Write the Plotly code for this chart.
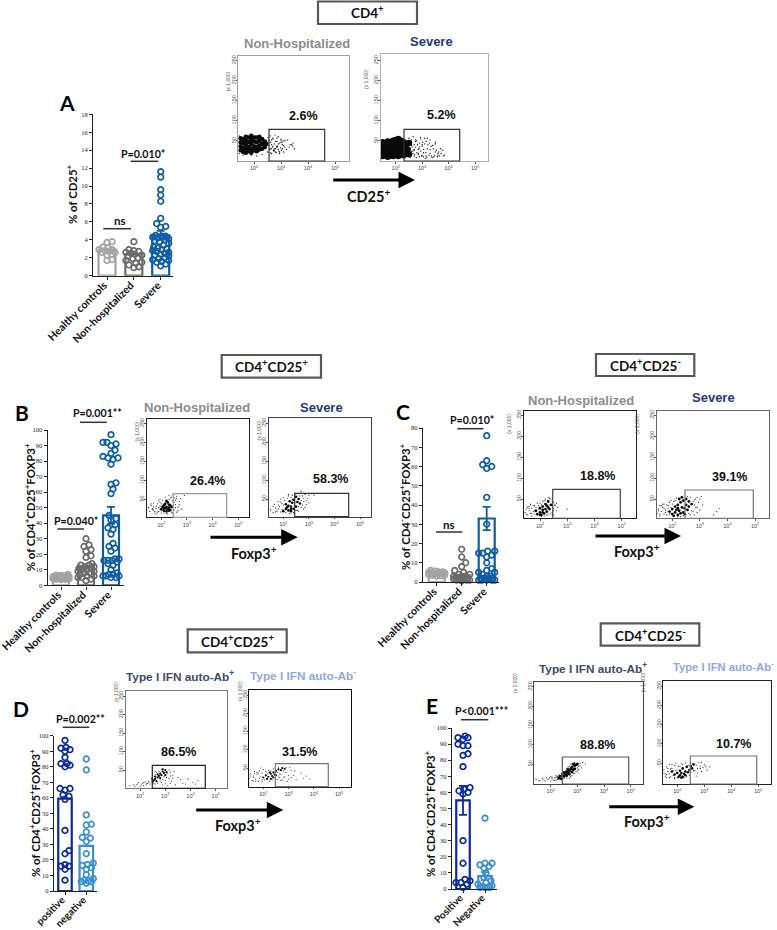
import plotly.graph_objects as go

W, H = 777, 930

# ---------- bar chart data ----------
A_labels = ["Healthy controls", "Non-hospitalized", "Severe"]
A_means = [2.9, 2.4, 4.5]
A_err = [0, 0, 0.5]
A_healthy = [3.8, 3.7, 3.2, 3.1, 2.9, 2.9, 2.8, 2.7, 2.6, 2.6, 2.4, 2.3, 1.8, 1.7]
A_nonhosp = [3.8, 2.9, 2.8, 2.7, 2.6, 2.5, 2.4, 2.3, 2.2, 2.0, 1.9, 1.7, 1.5, 1.4, 1.2, 1.0, 0.9]
A_severe = [11.6, 11.0, 9.6, 9.0, 8.3, 6.4, 5.8, 5.5, 5.4, 4.5, 4.4, 4.4, 4.3, 4.2, 4.1, 4.0, 3.9, 3.8, 3.6,
            3.4, 3.2, 3.1, 3.0, 2.9, 2.8, 2.7, 2.6, 2.5, 2.4, 2.3, 2.2, 2.0, 1.9, 1.8, 1.7, 1.6, 1.5, 1.3, 1.1]

B_means = [5, 12, 45]
B_err = [0, 0, 5.5]
B_healthy = [7, 6.6, 6.2, 6, 5.8, 5.5, 5.3, 5, 5, 4.8, 4.5, 4.4, 4.2, 4, 3.8, 3.6, 6.4, 5.6, 4.6, 4.1]
B_nonhosp = [30, 26, 25, 23, 22, 19, 18, 14, 13, 13, 12, 12, 11, 11, 10, 10, 9, 9, 8, 8, 7, 6, 6, 5, 5, 4, 3]
B_severe = [97, 92, 92, 91, 90, 87, 85, 83, 82, 82, 81, 78, 66, 65, 62, 59, 45, 43, 42, 39, 37, 36, 33, 27, 25,
            24, 22, 17, 17, 16, 16, 16, 15, 14, 13, 10, 8, 7, 7, 6, 6, 6, 5, 5]

C_means = [4, 3.5, 33]
C_err = [0, 0, 6]
C_healthy = [6, 5.6, 5.3, 5, 5, 4.8, 4.6, 4.4, 4.2, 4, 3.8, 3.6, 3.4, 3.2, 3, 5.2, 4.5, 3.9]
C_nonhosp = [17, 13, 10, 8, 6, 5, 4, 4, 3, 3, 3, 2, 2, 2, 1.5, 1, 1, 1, 0.5, 2.5]
C_severe = [76, 63, 61, 60, 59, 44, 30, 16, 16, 15, 15, 14, 13, 10, 7, 6, 5, 5, 4, 3, 3, 2, 2, 2, 2, 1, 1, 1, 1, 1]

D_labels = ["positive", "negative"]
D_means = [59.5, 29]
D_positive = [97, 92.5, 92, 91, 90, 86, 82, 82, 81, 80, 66, 66, 65, 62, 61, 59, 39, 26, 24, 17, 16, 16, 14, 7]
D_negative = [85, 78, 49, 43, 42.5, 38, 34.5, 34, 32, 24, 18, 17, 16.5, 15, 14, 10.5, 8, 7, 6.5, 6, 6, 5]

E_labels = ["Positive", "Negative"]
E_means = [55, 8]
E_err = [9, 2.5]
E_positive = [95, 94, 94, 93, 90, 89, 89, 84, 83, 76, 63, 62, 61, 60, 59, 30, 16, 6, 5, 4, 4, 3, 1]
E_negative = [44, 16, 16, 15, 14, 13, 10, 7, 5, 4, 3, 2, 1.5, 1, 1, 1, 1]

# ---------- flow cytometry data: (log10 of fluorescence, FSC/1000) ----------
F1_cx = [1.5,1.5,1.5,1.5,1.6,1.6,1.6,1.6,1.7,1.7,1.7,1.7,1.7,1.8,1.8,1.8,1.8,1.9,1.9,1.9,1.9,1.9,2.0,2.0,2.0,2.0,2.1,2.1,2.1,2.1,2.2,2.2,2.2,2.2,2.3,2.3,2.3,2.4,2.4,2.45]
F1_cy = [26,36,46,56,22,32,44,54,20,30,40,50,60,24,34,46,58,20,30,42,52,62,26,36,48,58,24,34,46,58,28,38,50,60,30,42,54,34,48,42]
F1_sx = [2.55,2.6,2.65,2.7,2.75,2.8,2.85,2.9,2.95,3.0,3.05,3.1,3.15,3.2,3.3,3.4,3.5,2.6,2.7,2.8,2.9,3.0,2.65,2.75,2.85,3.45,
         2.5,2.52,2.55,2.58,2.6,2.62,2.65,2.68,2.7,2.72,2.75,2.78,2.8,2.82,2.85,2.88,2.9,2.92,2.95,2.98,3.0,3.02,3.05,3.08,3.1,2.56,2.64,2.74,2.84,2.94,3.04,3.14,3.24,3.34,3.44,1.45,1.45,1.6,1.9,2.1,2.3]
F1_sy = [44,30,52,36,26,48,33,42,22,46,30,38,50,28,34,40,30,20,54,22,28,52,40,30,56,44,
         22,58,38,28,62,46,18,34,56,26,42,64,30,20,48,36,60,24,44,32,54,26,40,50,22,50,30,24,36,18,46,34,52,40,36,18,62,14,14,12,16]

F2_cx = [1.5,1.5,1.5,1.5,1.6,1.6,1.6,1.7,1.7,1.7,1.7,1.8,1.8,1.8,1.9,1.9,1.9,1.9,2.0,2.0,2.0,2.1,2.1,2.1,2.1,2.2,2.2,2.2,2.3,2.3,2.3,2.4,2.4,2.45,2.5,2.5]
F2_cy = [12,24,36,46,16,30,42,10,22,34,48,14,28,42,12,24,38,50,16,32,52,12,26,40,54,18,34,50,14,30,46,20,40,28,16,44]
F2_sx = [2.55,2.6,2.6,2.65,2.7,2.7,2.75,2.8,2.8,2.85,2.9,2.9,2.95,3.0,3.0,3.05,3.1,3.15,3.2,3.2,3.3,3.35,3.4,3.5,3.6,3.7,3.8,3.3,3.5,3.6,2.65,2.75,2.85,2.95,3.05,3.15,2.6,2.7,
         2.5,2.55,2.58,2.62,2.66,2.7,2.74,2.78,2.82,2.86,2.9,2.94,2.98,3.02,3.06,3.1,3.14,3.18,3.22,3.26,3.3,3.34,3.38,3.42,3.46,3.5,3.54,3.58,3.62,3.66,3.72,3.78,3.85,2.6,2.72,2.88,3.0,3.12,3.28,3.44]
F2_sy = [30,14,52,24,40,12,34,20,50,28,10,44,24,36,14,20,42,12,30,56,18,12,38,22,14,30,12,52,46,18,18,48,15,54,10,48,38,26,
         56,8,44,34,60,28,52,8,40,18,34,58,12,46,28,56,20,8,40,14,28,36,8,30,14,42,26,10,22,12,18,26,14,24,16,30,40,6,44,10]

F3_cx = [2.0,2.05,2.1,2.1,2.15,2.15,2.2,2.2,2.25,2.25,2.3,2.3,2.35,2.35,2.4,2.1,2.2,2.3]
F3_cy = [24,30,20,34,26,38,18,30,24,42,28,36,22,34,30,26,46,20]
F3_sx = [1.5,1.55,1.6,1.65,1.7,1.75,1.8,1.85,1.9,1.9,1.95,2.0,1.7,1.8,1.95,2.5,2.55,2.6,2.65,2.7,2.5,2.6,2.8,2.9,2.45,2.45,2.55,2.4,2.3,2.2,
         1.6,1.7,1.8,1.85,1.9,1.95,2.0,2.0,2.05,2.1,2.45,2.5,2.55,2.6,2.65,2.3,2.25,2.15,1.75,1.65,2.7,2.75,2.4,2.35,1.95,2.45]
F3_sy = [28,18,34,22,30,14,26,38,18,46,32,14,40,12,50,22,36,16,30,44,54,58,24,60,46,14,48,56,60,12,
         38,22,32,16,28,42,38,20,48,14,32,42,28,52,20,50,12,56,18,26,36,52,16,54,24,62]

F4_cx = [2.0,2.1,2.1,2.2,2.2,2.25,2.3,2.3,2.35,2.4,2.4,2.5,2.5,2.55,2.6,2.65,2.15,2.3]
F4_cy = [18,24,36,20,32,44,18,30,40,24,48,30,56,42,50,38,28,24]
F4_sx = [1.5,1.6,1.65,1.7,1.75,1.8,1.85,1.9,1.9,1.95,2.0,2.7,2.75,2.8,2.85,2.9,2.95,3.0,3.1,2.8,1.8,2.6,2.7,2.2,3.2,
         1.6,1.7,1.8,1.9,1.95,2.0,2.05,2.1,2.15,2.2,2.25,2.3,2.35,2.4,2.45,2.5,2.55,2.6,2.65,2.7,2.75,2.8,2.85,2.9,3.0,2.35,2.45,2.55]
F4_sy = [22,14,36,26,18,44,30,16,50,38,54,28,58,44,62,36,52,60,64,24,34,18,70,62,60,
         30,16,24,42,22,34,46,14,52,58,12,54,60,14,62,20,64,30,58,46,34,52,28,46,40,48,42,20]

F5_cx = [1.85,1.9,2.0,2.0,2.05,2.1,2.1,2.15,2.2,2.2,2.25,2.3,2.3,2.35,2.4,2.0,2.1,2.25]
F5_cy = [22,14,18,28,12,24,32,16,26,38,20,30,44,26,36,12,18,34]
F5_sx = [1.45,1.5,1.55,1.6,1.6,1.65,1.7,1.7,1.75,1.8,1.8,1.9,2.45,2.5,2.5,2.55,2.6,2.65,2.4,2.5,3.0,1.65,2.3,2.2,
         1.5,1.6,1.7,1.75,1.8,1.85,1.9,1.95,2.0,2.05,2.1,2.15,2.2,2.25,2.3,2.35,2.4,2.45,2.5,2.55,1.55,1.65,1.95,2.05,2.6,2.15]
F5_sy = [18,26,12,22,32,16,10,28,20,14,34,40,18,28,42,34,22,30,50,12,26,38,54,50,
         14,28,16,34,22,30,12,34,40,36,44,10,48,12,14,52,14,44,22,36,30,36,26,8,40,46]

F6_cx = [1.9,2.0,2.0,2.1,2.1,2.15,2.2,2.2,2.25,2.3,2.3,2.35,2.4,2.4,2.45,2.5,2.5,2.55,2.6,2.6,2.7,2.05,2.25,2.35,2.2,2.45]
F6_cy = [20,14,26,18,32,24,12,36,22,16,42,30,18,46,28,36,50,24,32,44,38,10,50,54,28,14]
F6_sx = [1.45,1.5,1.55,1.6,1.65,1.7,1.75,1.8,1.85,1.9,1.95,1.55,1.7,1.85,2.75,2.8,2.85,2.9,2.95,3.0,3.05,3.1,3.6,3.7,2.8,2.9,3.5,
         1.5,1.55,1.6,1.7,1.75,1.8,1.85,1.9,1.95,2.0,2.05,2.1,2.15,2.2,2.3,2.4,2.5,2.6,2.65,2.7,2.75,2.8,2.85,2.9,3.0,1.65,1.95,2.55,2.65]
F6_sy = [16,26,10,20,30,14,24,12,34,42,46,34,38,28,20,48,30,54,42,24,56,36,20,28,12,18,12,
         22,14,34,28,18,36,20,14,30,38,44,46,52,8,8,10,12,16,54,22,44,36,50,30,50,38,16,56,12]

F7_cx = [2.5,2.55,2.6,2.65,2.7,2.75,2.8,2.8,2.85,2.9,2.95,3.0,3.0,3.05,2.7,2.9,2.6]
F7_cy = [18,22,26,20,30,34,28,40,36,46,42,50,36,44,38,52,32]
F7_sx = [1.6,1.8,1.9,2.0,2.1,2.15,2.2,2.25,2.3,2.35,2.4,2.45,2.5,2.6,2.7,2.85,3.1,3.15,3.2,3.25,3.3,3.4,3.6,3.9,4.1,4.3,3.0,3.2,2.9,3.7,
         2.45,2.5,2.55,2.6,2.65,2.7,2.75,2.8,2.85,2.9,2.95,3.0,3.05,3.1,3.15,3.2,3.3,2.35,2.25,2.15,2.05,1.95,1.85,1.75,3.5,3.8,4.2,2.6,3.35]
F7_sy = [8,6,12,6,14,8,18,10,14,20,12,24,10,12,14,16,8,28,44,20,36,10,24,26,16,22,14,14,10,14,
         28,34,14,38,44,18,46,20,52,24,32,22,30,40,50,34,28,16,14,16,10,16,10,10,30,12,12,46,46]

F8_cx = [2.0,2.1,2.2,2.3,2.3,2.35,2.4,2.4,2.45,2.5,2.5,2.6,2.7,2.75,2.85,2.15,2.25]
F8_cy = [24,30,26,20,34,28,24,38,32,30,42,46,44,50,48,20,38]
F8_sx = [1.45,1.5,1.55,1.6,1.65,1.7,1.75,1.8,1.85,1.9,1.95,2.0,1.6,1.8,1.9,2.55,2.6,2.7,2.8,2.9,3.0,3.1,3.2,3.3,3.5,3.7,3.85,2.65,2.95,3.05,
         1.5,1.6,1.7,1.75,1.85,1.95,2.05,2.1,2.15,2.2,2.25,2.3,2.35,2.4,2.5,2.55,2.6,2.65,2.7,2.75,2.8,2.85,2.9,3.0,3.1,3.25,3.6,1.65,1.95]
F8_sy = [22,34,16,28,40,20,32,14,42,26,18,46,14,36,50,18,28,16,24,38,20,44,30,18,36,28,20,34,14,52,
         28,24,14,38,22,36,18,40,34,44,14,42,18,48,20,38,52,24,32,18,42,26,52,30,24,42,22,34,12]

F9_cx = [2.3,2.35,2.4,2.45,2.5,2.55,2.6,2.6,2.65,2.7,2.7,2.75,2.8,2.8,2.85,2.9,2.9,2.95,3.0,2.5,2.65,2.85]
F9_cy = [14,18,12,20,18,24,20,30,26,32,24,38,30,42,36,46,38,48,50,28,36,50]
F9_sx = [1.45,1.6,1.7,1.8,1.9,1.95,2.0,2.05,2.1,2.15,2.2,2.25,3.05,3.1,3.15,3.2,3.0,2.9,2.4,2.2,2.0,3.3,2.7,2.8,
         2.2,2.25,2.3,2.35,2.4,2.45,2.5,2.55,2.6,2.65,2.7,2.75,2.8,2.85,2.9,2.95,3.0,3.05,3.1,2.15,2.05,1.85,1.75,1.55,2.6,2.75]
F9_sy = [10,8,12,6,10,14,6,12,8,14,20,10,44,52,40,54,32,26,26,16,18,50,14,20,
         8,18,22,10,24,14,12,32,14,42,44,18,50,26,54,30,40,36,46,8,16,14,8,8,38,50]

F10_cx = [1.9,2.0,2.05,2.1,2.1,2.15,2.2,2.2,2.25,2.3,2.3,2.35,2.4,2.45,2.5,2.55,2.6,1.8,2.15]
F10_cy = [20,24,14,30,18,24,14,36,22,28,18,40,26,32,42,36,46,28,12]
F10_sx = [1.45,1.45,1.5,1.55,1.6,1.65,1.7,1.75,1.8,1.85,1.9,1.95,2.65,2.7,2.75,2.8,2.85,2.9,3.0,3.1,3.2,2.7,2.9,1.6,1.7,1.9,
          1.5,1.55,1.6,1.65,1.7,1.75,1.8,1.85,1.9,1.95,2.0,2.05,2.1,2.15,2.2,2.25,2.3,2.35,2.4,2.45,2.5,2.55,2.6,2.65,2.75,2.85,2.95,3.05]
F10_sy = [12,36,24,16,40,28,12,34,46,18,44,50,30,44,24,52,36,28,46,32,40,16,52,20,46,10,
          32,22,12,36,22,14,36,30,12,30,12,42,40,48,46,12,50,14,44,18,26,50,30,48,36,42,38,42]

flow_ticks_x = [2, 3, 4, 5]
flow_ticks_x_text = ["10<sup>2</sup>", "10<sup>3</sup>", "10<sup>4</sup>", "10<sup>5</sup>"]
flow_ticks_y = [50, 100, 150, 200, 250]

# ---------- colours ----------
GREY, DGREY, BLUE = "#a3a3a3", "#6b6b6b", "#0d5ca6"
NAVY, SKY = "#0a2a9e", "#3a8fd0"

fig = go.Figure()
layout = {}
ax_n = [0]


def new_axes(l, r, t, b):
    ax_n[0] += 1
    n = ax_n[0]
    s = "" if n == 1 else str(n)
    xk, yk = "xaxis" + s, "yaxis" + s
    layout[xk] = dict(domain=[l / W, r / W], anchor="y" + s, automargin=False)
    layout[yk] = dict(domain=[1 - b / H, 1 - t / H], anchor="x" + s, automargin=False)
    return "x" + s, "y" + s, xk, yk


def swarm(vals, px_per_unit, d=5.0, maxw=9.0):
    placed = []
    order = sorted(range(len(vals)), key=lambda i: vals[i])
    res = [0.0] * len(vals)
    cands = [0.0]
    k = 1
    while k * 1.0 <= maxw:
        cands += [k * 1.0, -k * 1.0]
        k += 1
    for i in order:
        py = vals[i] * px_per_unit
        best, best_d = 0.0, -1
        for c in cands:
            md = min([((c - a) ** 2 + (py - b) ** 2) ** 0.5 for a, b in placed[-60:]] or [99])
            if md >= d:
                best, best_d = c, md
                break
            if md > best_d:
                best, best_d = c, md
        placed.append((best, py))
        res[i] = best
    return res


def bar_panel(l, r, t, b, lo_tick, hi_tick, ymax, ydtick, labels, means, errs, groups, colors, widthpx, maxw, lw=2.2, lab=10.7):
    xa, ya, xk, yk = new_axes(l, r, t, b)
    n = len(labels)
    spacing = (hi_tick - lo_tick) / (n - 1)
    x0 = -(lo_tick - l) / spacing
    x1 = (r - lo_tick) / spacing
    ppu = (b - t) / ymax
    for i in range(n):
        fig.add_trace(go.Bar(
            x=[i], y=[means[i]], width=widthpx / spacing, xaxis=xa, yaxis=ya,
            marker=dict(color="rgba(0,0,0,0)", line=dict(color=colors[i], width=lw)),
            error_y=dict(type="data", array=[errs[i]], visible=errs[i] > 0, color=colors[i], thickness=1.8, width=4),
        ))
        off = swarm(groups[i], ppu, maxw=maxw)
        fig.add_trace(go.Scatter(
            x=[i + o / spacing for o in off], y=groups[i], mode="markers", xaxis=xa, yaxis=ya,
            marker=dict(symbol="circle-open", size=5.6, color=colors[i], line=dict(width=1.7, color=colors[i])),
            cliponaxis=False,
        ))
    layout[xk].update(range=[x0, x1], tickvals=list(range(n)), ticktext=labels, tickangle=-45,
                      showgrid=False, zeroline=False, showline=True, linecolor="#222", linewidth=1.4,
                      ticks="outside", ticklen=3, tickwidth=1.2, tickcolor="#222",
                      ticklabelstandoff=-5, ticklabelshift=-3, ticklabeloverflow="allow",
                      tickfont=dict(family="Lato", size=lab, color="#111", weight="bold"))
    layout[yk].update(range=[0, ymax], tick0=0, dtick=ydtick, showgrid=False, zeroline=False,
                      showline=True, linecolor="#222", linewidth=1.4, ticks="outside", ticklen=3,
                      tickwidth=1, tickcolor="#222",
                      tickfont=dict(family="Liberation Serif", size=6.5, color="#222"))


def flow_panel(l, r, t, b, t2, t5, y50, y250, gate, cx, cy, sx, sy, line, gate_col, core, sp=1.4):
    xa, ya, xk, yk = new_axes(l, r, t, b)
    perdec = (t5 - t2) / 3
    per = (y50 - y250) / 200
    xr = [2 - (t2 - l) / perdec, 5 + (r - t5) / perdec]
    yr = [50 - (b - y50) / per, 250 + (y250 - t) / per]
    fig.add_trace(go.Scatter(x=sx, y=sy, mode="markers", xaxis=xa, yaxis=ya,
                             marker=dict(size=sp, color="#222")))
    fig.add_trace(go.Scatter(x=cx, y=cy, mode="markers", xaxis=xa, yaxis=ya,
                             marker=dict(size=core, color="#0a0a0a")))
    layout[xk].update(range=xr, tickvals=flow_ticks_x, ticktext=flow_ticks_x_text, showgrid=False, zeroline=False,
                      showline=True, mirror=True, linecolor=line, linewidth=1.2, ticks="outside", ticklen=1.5,
                      tickwidth=0.7, tickcolor="#555", tickfont=dict(family="Liberation Sans", size=5.5, color="#444"))
    layout[yk].update(range=yr, tickvals=flow_ticks_y, tickangle=-90, showgrid=False, zeroline=False,
                      showline=True, mirror=True, linecolor=line, linewidth=1.2, ticks="outside", ticklen=1.5,
                      tickwidth=0.7, tickcolor="#555", ticklabelstandoff=-2,
                      tickfont=dict(family="Liberation Sans", size=5.5, color="#555"))
    shapes.append(dict(type="rect", xref="paper", yref="paper", x0=gate[0] / W, x1=gate[1] / W,
                       y0=1 - b / H, y1=1 - gate[2] / H, line=dict(color=gate_col, width=1.2)))
    annots.append(dict(x=(l - 15) / W, y=1 - (t + 13) / H, xref="paper", yref="paper", text="(x 1,000)",
                       textangle=-90, showarrow=False, font=dict(family="Liberation Sans", size=5, color="#555")))


shapes, annots = [], []


def label(x, y, text, family="Lato", size=12, color="#111", bold=True, angle=0):
    annots.append(dict(x=x / W, y=1 - y / H, xref="paper", yref="paper", text=text, showarrow=False,
                       textangle=angle, xanchor="center", yanchor="middle",
                       font=dict(family=family, size=size, color=color, weight="bold" if bold else "normal")))


def hline(x0, x1, y):
    shapes.append(dict(type="line", xref="paper", yref="paper", x0=x0 / W, x1=x1 / W, y0=1 - y / H, y1=1 - y / H,
                       line=dict(color="#333", width=1.5)))


def box(x0, x1, y0, y1):
    shapes.append(dict(type="rect", xref="paper", yref="paper", x0=x0 / W, x1=x1 / W, y0=1 - y1 / H, y1=1 - y0 / H,
                       line=dict(color="#595959", width=2.2), fillcolor="white"))


def arrow(x0, x1, y):
    annots.append(dict(x=x1 / W, y=1 - y / H, xref="paper", yref="paper", ax=x0 - x1, ay=0, axref="pixel", ayref="pixel",
                       text="", showarrow=True, arrowhead=2, arrowsize=1.1, arrowwidth=3, arrowcolor="#000"))


# ---------- bar panels ----------
bar_panel(93.3, 173, 114.3, 275.7, 107, 160.7, 18, 2, A_labels, A_means, A_err,
          [A_healthy, A_nonhosp, A_severe], [GREY, DGREY, BLUE], 17, 8.5)
bar_panel(47.7, 124, 430, 585.3, 61, 111, 100, 10, A_labels, B_means, B_err,
          [B_healthy, B_nonhosp, B_severe], [GREY, DGREY, BLUE], 16, 8)
bar_panel(423, 499, 428, 582, 436.7, 486.7, 80, 10, A_labels, C_means, C_err,
          [C_healthy, C_nonhosp, C_severe], [GREY, DGREY, BLUE], 16, 8)
bar_panel(54, 96.7, 735.7, 891, 65, 86.3, 100, 10, D_labels, D_means, [0, 0],
          [D_positive, D_negative], [NAVY, SKY], 13.5, 7, lab=10)
bar_panel(452, 496.7, 728, 889, 463, 485, 100, 10, E_labels, E_means, E_err,
          [E_positive, E_negative], [NAVY, SKY], 13.5, 7, lab=10)

# ---------- flow panels ----------
flow_panel(238.3, 349.3, 56, 161, 254, 335, 140.7, 60.5, (269, 324.7, 129.3), F1_cx, F1_cy, F1_sx, F1_sy, "#a0a0a0", "#333", 4.6, 1.4)
flow_panel(381, 488, 54, 161, 395.7, 475, 140.7, 60.5, (404, 459.7, 129.3), F2_cx, F2_cy, F2_sx, F2_sy, "#b0b0b0", "#333", 6.5, 1.4)
flow_panel(146.7, 249.3, 418.7, 517.3, 161.3, 238.3, 499.3, 423.3, (173.3, 226.7, 493.7), F3_cx, F3_cy, F3_sx, F3_sy, "#222", "#999", 2.8, 1.2)
flow_panel(268.7, 371.3, 417.7, 516.7, 283.3, 360, 499, 423, (294.7, 348.7, 493.3), F4_cx, F4_cy, F4_sx, F4_sy, "#444", "#333", 2.6, 1.2)
flow_panel(524, 636, 410.7, 518.3, 540, 621.7, 499, 415, (552.7, 620.3, 489.3), F5_cx, F5_cy, F5_sx, F5_sy, "#222", "#444", 2.8, 1.2)
flow_panel(656.7, 768.7, 411, 518.3, 672.3, 755, 499, 415, (685, 753.3, 490), F6_cx, F6_cy, F6_sx, F6_sy, "#666", "#777", 2.8, 1.2)
flow_panel(125.7, 227.3, 691, 788.3, 140, 215.7, 770, 696, (152.3, 205.3, 765.3), F7_cx, F7_cy, F7_sx, F7_sy, "#777", "#222", 2.2, 1.1)
flow_panel(249.3, 351.3, 689.7, 786.7, 263.3, 339, 768, 695, (275.3, 328.3, 763.7), F8_cx, F8_cy, F8_sx, F8_sy, "#111", "#777", 2.2, 1.1)
flow_panel(534.3, 643.3, 681.7, 784, 550.7, 630.7, 764, 686.7, (562.3, 628.7, 757), F9_cx, F9_cy, F9_sx, F9_sy, "#444", "#555", 3, 1.2)
flow_panel(663.3, 771.3, 681, 784, 677.3, 758.3, 763, 686, (690.3, 756.7, 756), F10_cx, F10_cy, F10_sx, F10_sy, "#222", "#777", 2.6, 1.2)

# ---------- title boxes ----------
box(318, 417, 1.5, 24); label(367.5, 12, "CD4<sup>+</sup>", "Lato", 13.5)
box(221.7, 321, 355, 377.7); label(271, 366, "CD4<sup>+</sup>CD25<sup>+</sup>", "Lato", 13.5)
box(596, 694.3, 354, 376); label(645, 365, "CD4<sup>+</sup>CD25<sup>-</sup>", "Lato", 13.5)
box(187.7, 286.7, 629.3, 652.3); label(237, 641, "CD4<sup>+</sup>CD25<sup>+</sup>", "Lato", 13.5)
box(600.7, 699.3, 623.3, 645.7); label(650, 635, "CD4<sup>+</sup>CD25<sup>-</sup>", "Lato", 13.5)

# ---------- panel letters ----------
for x, y, t in [(67, 103, "A"), (22, 412.7, "B"), (402.7, 411.7, "C"), (20.7, 708, "D"), (431.7, 705.7, "E")]:
    label(x, y, t, "Lato", 21, "#000")

# ---------- p-values ----------
PS = 10.6
label(143, 154, "P=0.010*", size=PS); hline(130.7, 158.3, 161.3)
label(120, 220, "ns", size=PS + 1); hline(103.3, 131, 228.7)
label(98, 413, "P=0.001**", size=PS); hline(80, 106.7, 422.3)
label(75.7, 521, "P=0.040*", size=PS); hline(57.3, 84, 529)
label(472.3, 420.3, "P=0.010*", size=PS); hline(457.3, 483.3, 428.7)
label(449, 524, "ns", size=PS + 1); hline(436, 462.3, 532)
label(80, 719.3, "P=0.002**", size=PS); hline(62.7, 89.3, 727.3)
label(481, 710.7, "P<0.001***", size=PS); hline(461, 488.3, 719.7)

# ---------- y titles ----------
YS = 11.4
label(71, 194, "% of CD25<sup>+</sup>", size=YS, angle=-90)
label(29.3, 507, "% of CD4<sup>+</sup>CD25<sup>+</sup>FOXP3<sup>+</sup>", size=YS, angle=-90)
label(404, 507, "% of CD4<sup>-</sup>CD25<sup>+</sup>FOXP3<sup>+</sup>", size=YS, angle=-90)
label(34, 813, "% of CD4<sup>+</sup>CD25<sup>+</sup>FOXP3<sup>+</sup>", size=YS, angle=-90)
label(429, 814, "% of CD4<sup>-</sup>CD25<sup>+</sup>FOXP3<sup>+</sup>", size=YS, angle=-90)

# ---------- flow headers ----------
HN, HS, HP, HM = "#8c8c8c", "#1f3a7a", "#404a6b", "#8fa9e0"
AR = "Liberation Sans"
label(296.7, 43, "Non-Hospitalized", AR, 13, HN); label(431.7, 41.7, "Severe", AR, 13, HS)
label(196.7, 407.7, "Non-Hospitalized", AR, 13, HN); label(321.7, 407.7, "Severe", AR, 13, HS)
label(581, 400.7, "Non-Hospitalized", AR, 13, HN); label(713.3, 397.3, "Severe", AR, 13, HS)
label(180, 676, "Type I IFN auto-Ab<sup>+</sup>", AR, 11.8, HP); label(303, 675, "Type I IFN auto-Ab<sup>-</sup>", AR, 11.8, HM)
label(592.7, 668, "Type I IFN auto-Ab<sup>+</sup>", AR, 11.8, HP); label(723, 666, "Type I IFN auto-Ab<sup>-</sup>", AR, 11.2, HM)

# ---------- gate percentages ----------
for x, y, t in [(303, 115.7, "2.6%"), (441.7, 115, "5.2%"), (207.7, 480.7, "26.4%"), (330, 479, "58.3%"),
                (597, 476, "18.8%"), (729.3, 477, "39.1%"), (178.7, 751.7, "86.5%"), (299.3, 751.7, "31.5%"),
                (597.7, 745, "88.8%"), (733.3, 744.3, "10.7%")]:
    label(x, y, t, AR, 12.5)

# ---------- arrows ----------
arrow(331.7, 415, 180); label(368, 195.7, "CD25<sup>+</sup>", size=14.5)
arrow(209, 297.7, 537.3); label(254, 552, "Foxp3<sup>+</sup>", size=14.5)
arrow(594, 681, 536); label(636.7, 550, "Foxp3<sup>+</sup>", size=14.5)
arrow(194.7, 283.3, 810); label(238, 824, "Foxp3<sup>+</sup>", size=14.5)
arrow(607.7, 694.3, 806.7); label(646.7, 820.7, "Foxp3<sup>+</sup>", size=14.5)

fig.update_layout(template="none", width=W, height=H, margin=dict(l=0, r=0, t=0, b=0, pad=0), autosize=False,
                  paper_bgcolor="white", plot_bgcolor="white", showlegend=False, barmode="overlay",
                  shapes=shapes, annotations=annots, **layout)
fig.write_html("out.html", post_script="document.body.style.margin='0';", config={"displayModeBar": False})
